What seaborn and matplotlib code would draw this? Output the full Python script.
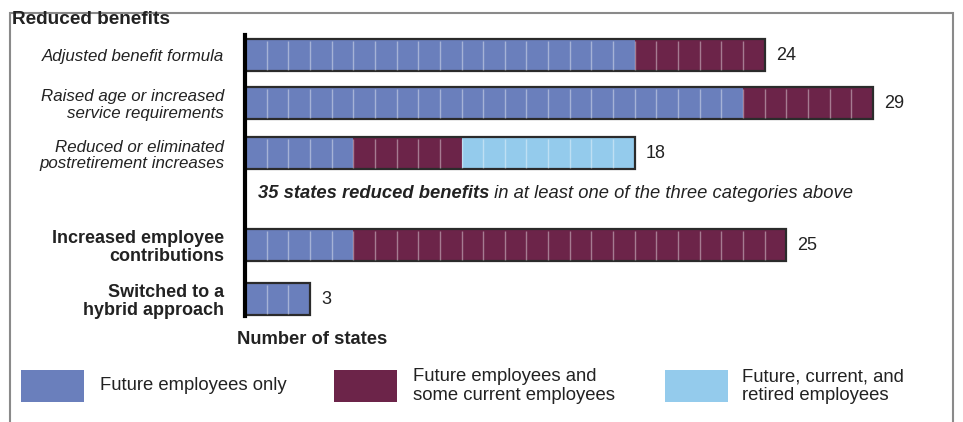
import matplotlib.pyplot as plt
import pandas as pd
import seaborn as sns
from matplotlib.patches import Rectangle

categories = [
    "Adjusted benefit formula",
    "Raised age or increased\nservice requirements",
    "Reduced or eliminated\npostretirement increases",
    "Increased employee\ncontributions",
    "Switched to a\nhybrid approach",
]
future_only = [18, 23, 5, 5, 3]
future_some_current = [6, 6, 5, 20, 0]
future_current_retired = [0, 0, 8, 0, 0]
series_names = [
    "Future employees only",
    "Future employees and\nsome current employees",
    "Future, current, and\nretired employees",
]
colors = ["#6a7fbc", "#6c2449", "#94cbec"]

W, H = 963, 422
AX_LEFT = 245
UNIT = 21.65
BAR_H = 32
# row centres in pixels from the top (gap after row 3 for the note)
row_y = [55, 103, 153, 245, 299]

sns.set_theme(style="white")
plt.rcParams["font.family"] = ["Liberation Sans", "DejaVu Sans"]

df = pd.DataFrame({"category": categories, "row_y": row_y})
df["c1"] = future_only
df["c2"] = df["c1"] + future_some_current
df["c3"] = df["c2"] + future_current_retired
totals = df["c3"].tolist()

fig = plt.figure(figsize=(W / 100, H / 100), dpi=100)
ax = fig.add_axes([AX_LEFT / W, 0, 1 - AX_LEFT / W, 1])
ax.patch.set_visible(False)

width = BAR_H / min(b - a for a, b in zip(row_y, row_y[1:]))

# stacked look: draw cumulative layers from the longest down
for col, color in reversed(list(zip(["c1", "c2", "c3"], colors))):
    sns.barplot(data=df, x=col, y="row_y", orient="h", native_scale=True,
                color=color, saturation=1, width=width, linewidth=0,
                errorbar=None, ax=ax)

# one cell per state
for y, t in zip(row_y, totals):
    ax.vlines(range(1, t), y - BAR_H / 2 + 1.5, y + BAR_H / 2 - 1.5,
              color="white", alpha=0.4, lw=1)

sns.barplot(data=df, x="c3", y="row_y", orient="h", native_scale=True,
            fill=False, color="#2b2b2b", width=width, linewidth=1.6,
            errorbar=None, ax=ax)
ax.bar_label(ax.containers[-1], labels=[str(t) for t in totals],
             padding=8, fontsize=13, color="#222222")

ax.set_xlim(0, (W - AX_LEFT) / UNIT)
ax.set_ylim(H, 0)
ax.set_xticks([])
ax.set_yticks(row_y, categories)
ax.tick_params(axis="y", length=0, pad=15)
ax.set_xlabel("")
ax.set_ylabel("")
for side in ["top", "right", "bottom"]:
    ax.spines[side].set_visible(False)
ax.spines["left"].set_color("black")
ax.spines["left"].set_linewidth(3)
ax.spines["left"].set_bounds(35, 316)

for i, lbl in enumerate(ax.get_yticklabels()):
    lbl.set_linespacing(1.1)
    lbl.set_color("#222222")
    if i < 3:
        lbl.set_fontstyle("italic")
        lbl.set_fontsize(12.2)
    else:
        lbl.set_fontweight("bold")
        lbl.set_fontsize(13)

note = ax.text((258 - AX_LEFT) / UNIT, 193, "35 states reduced benefits",
               fontsize=13.2, fontweight="bold", fontstyle="italic",
               va="center", color="#222222")
ax.annotate(" in at least one of the three categories above", xy=(1, 0.5),
            xycoords=note, va="center", ha="left", fontsize=13.2,
            fontstyle="italic", color="#222222")

fig.text(12 / W, 1 - 20 / H, "Reduced benefits", fontsize=13.7,
         fontweight="bold", va="center", color="#222222")
fig.text(237 / W, 1 - 340 / H, "Number of states", fontsize=13.2,
         fontweight="bold", va="center", color="#222222")

# legend
for name, color, px, tx in zip(series_names, colors, [21, 334, 665], [100, 413, 742]):
    fig.add_artist(Rectangle((px / W, 1 - 402 / H), 63 / W, 32 / H,
                             transform=fig.transFigure, facecolor=color,
                             edgecolor="none"))
    fig.text(tx / W, 1 - 386 / H, name, fontsize=13.3, va="center",
             linespacing=1.1, color="#222222")

fig.add_artist(Rectangle((10 / W, -0.05), (953 - 10) / W, 1 - 13 / H + 0.05,
                         transform=fig.transFigure, fill=False,
                         edgecolor="#8a8a8a", lw=1.5))

fig.savefig("out.png", dpi=100)
